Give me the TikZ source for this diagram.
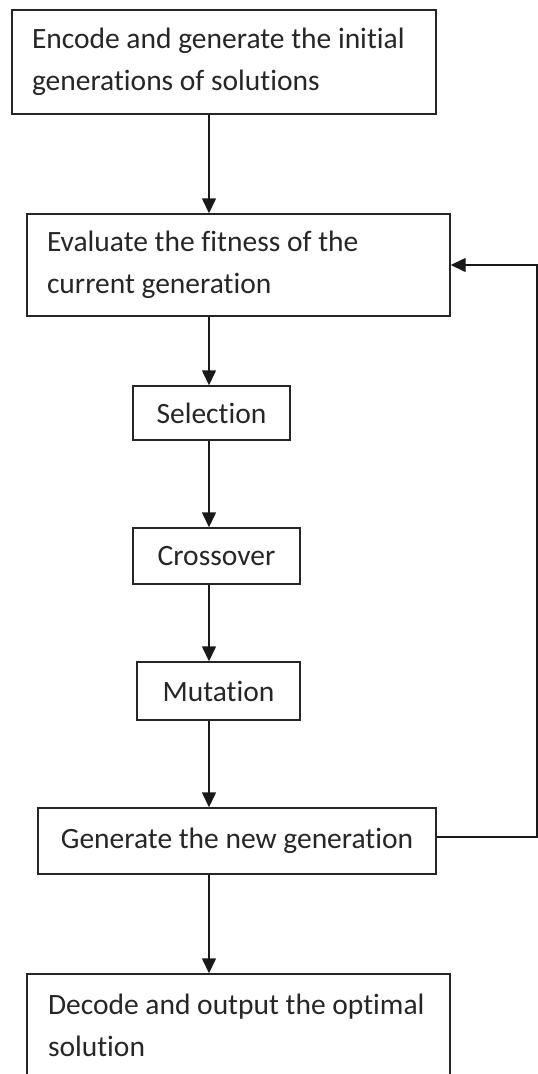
\documentclass[tikz,border=0pt]{standalone}
\usepackage{fontspec}
\setmainfont{Carlito}[Ligatures=NoCommon]
\usetikzlibrary{arrows.meta}

\begin{document}
\begin{tikzpicture}[x=1pt, y=-1pt,
  box/.style={draw=black!85, text=black!85, line width=1.4pt, inner sep=0pt, font=\fontsize{29.5}{42}\selectfont},
  widebox/.style={box, align=flush left, inner xsep=20pt, text width=#1},
  arrow/.style={-{Triangle[length=15pt,width=14pt]}, line width=1.4pt, draw=black!90}
]
\useasboundingbox (0,0) rectangle (538,1074);
\clip (0,0) rectangle (538,1074);
% main column and return path
\coordinate (col) at (209,0);
\coordinate (back) at (537,0);
\node[widebox=384pt, minimum height=104pt] (init) at (224,62) {Encode and generate the initial\\generations of solutions};
\node[widebox=383pt, minimum height=102pt] (eval) at (238.5,265) {Evaluate the fitness of the\\current generation};
\node[box, minimum width=157pt, minimum height=54pt] (sel) at (211.5,413) {Selection};
\node[box, minimum width=167pt, minimum height=56pt] (cross) at (216.5,556) {Crossover};
\node[box, minimum width=163pt, minimum height=58pt] (mut) at (218.5,691) {Mutation};
\node[box, minimum width=398pt, minimum height=66pt] (newgen) at (237,841) {Generate the new generation};
\node[widebox=381pt, inner xsep=21pt, minimum height=102pt] (decode) at (238.5,1025) {Decode and output the optimal\\solution};
\draw[arrow] (init.south -| col) -- (eval.north -| col);
\draw[arrow] (eval.south -| col) -- (sel.north -| col);
\draw[arrow] (sel.south -| col) -- (cross.north -| col);
\draw[arrow] (cross.south -| col) -- (mut.north -| col);
\draw[arrow] (mut.south -| col) -- (newgen.north -| col);
\draw[arrow] (newgen.south -| col) -- (decode.north -| col);
\draw[arrow] ([yshift=4pt]newgen.east) -- ([yshift=4pt]newgen.east -| back) -- (eval.east -| back) -- (eval.east);
\end{tikzpicture}
\end{document}
